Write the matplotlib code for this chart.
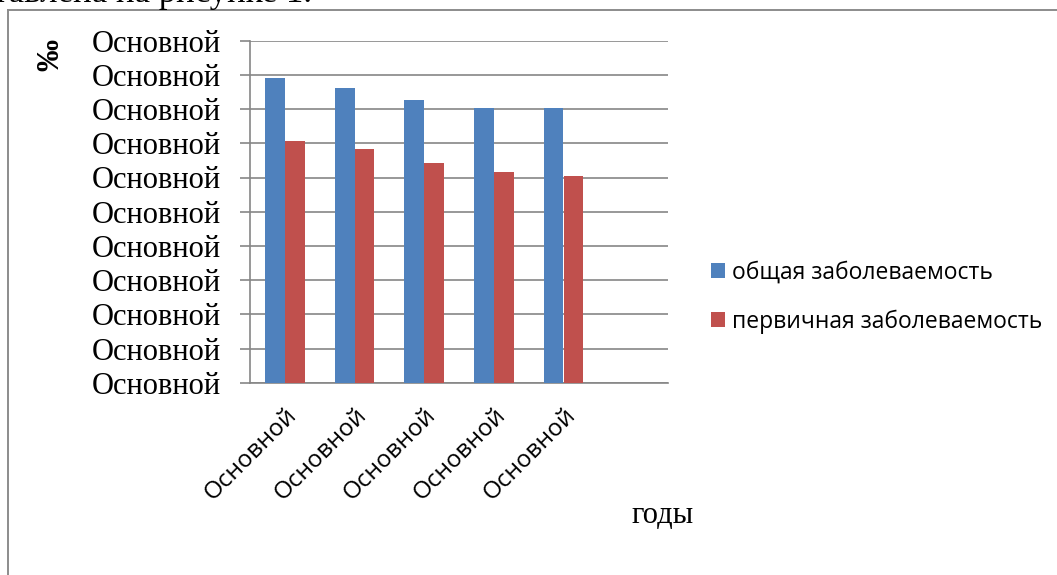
import numpy as np
import matplotlib
matplotlib.use("Agg")
import matplotlib.pyplot as plt

# данные диаграммы
years = ["Основной", "Основной", "Основной", "Основной", "Основной", ""]
general = [8.90, 8.63, 8.26, 8.03, 8.04]
primary = [7.07, 6.84, 6.42, 6.15, 6.03]
y_ticks = list(range(0, 11))
y_labels = ["Основной"] * len(y_ticks)
series_names = ["общая заболеваемость", "первичная заболеваемость"]

BLUE = "#4F81BD"
RED = "#C0504D"
GRID = "#868686"

W, H = 1057, 575
fig = plt.figure(figsize=(W / 100, H / 100), dpi=100)
fig.patch.set_facecolor("white")

def px(x, y):
    return x / W, 1 - y / H

# рамка области диаграммы
fig.add_artist(plt.Line2D([8 / W, 8 / W], [0, 1 - 9.5 / H], color="#8C8C8C", lw=1.4,
                          transform=fig.transFigure))
fig.add_artist(plt.Line2D([8 / W, 1], [1 - 9.5 / H, 1 - 9.5 / H], color="#8C8C8C", lw=1.4,
                          transform=fig.transFigure))

# строка текста над рисунком (видна только нижняя часть)
fig.text(312 / W, 1 - 2.5 / H, "представлена на рисунке 1.", ha="right", va="baseline",
         family="Liberation Serif", fontsize=25)

l, r, t, b = 250, 668, 40.7, 382.7
ax = fig.add_axes([l / W, 1 - b / H, (r - l) / W, (b - t) / H])

x = np.arange(len(general))
w = 0.2857
ax.bar(x - w / 2, general, width=w, color=BLUE, label=series_names[0], zorder=3)
ax.bar(x + w / 2, primary, width=w, color=RED, label=series_names[1], zorder=3)

ax.set_xlim(-0.5, len(years) - 0.5)
ax.set_ylim(0, 10)
ax.set_yticks(y_ticks)
ax.set_yticklabels(y_labels, family="Liberation Serif", fontsize=22)
ax.set_xticks(np.arange(len(years)))
ax.set_xticklabels(years, rotation=45, ha="right", rotation_mode="anchor",
                   family="Open Sans", fontsize=17.5)
ax.tick_params(axis="y", length=7.2, width=1.2, color=GRID, pad=14)
ax.tick_params(axis="x", length=0, pad=15)

ax.grid(axis="y", color=GRID, lw=1.2, zorder=0)
for s in ["top", "right"]:
    ax.spines[s].set_visible(False)
for s in ["left", "bottom"]:
    ax.spines[s].set_color(GRID)
    ax.spines[s].set_linewidth(1.2)

ax.legend(loc="center left", bbox_to_anchor=px(711, 297), bbox_transform=fig.transFigure,
          frameon=False, prop={"family": "Open Sans", "size": 16.5},
          handlelength=0.62, handleheight=0.62, handletextpad=0.3,
          labelspacing=1.1, borderpad=0, borderaxespad=0)

fig.text(51 / W, 1 - 55 / H, "‰", rotation=90, ha="center", va="center",
         family="Liberation Serif", fontsize=23, weight="bold")
fig.text(663 / W, 1 - 523 / H, "годы", ha="center", va="baseline",
         family="Liberation Serif", fontsize=22)

fig.savefig("out.png", dpi=100, facecolor="white")
